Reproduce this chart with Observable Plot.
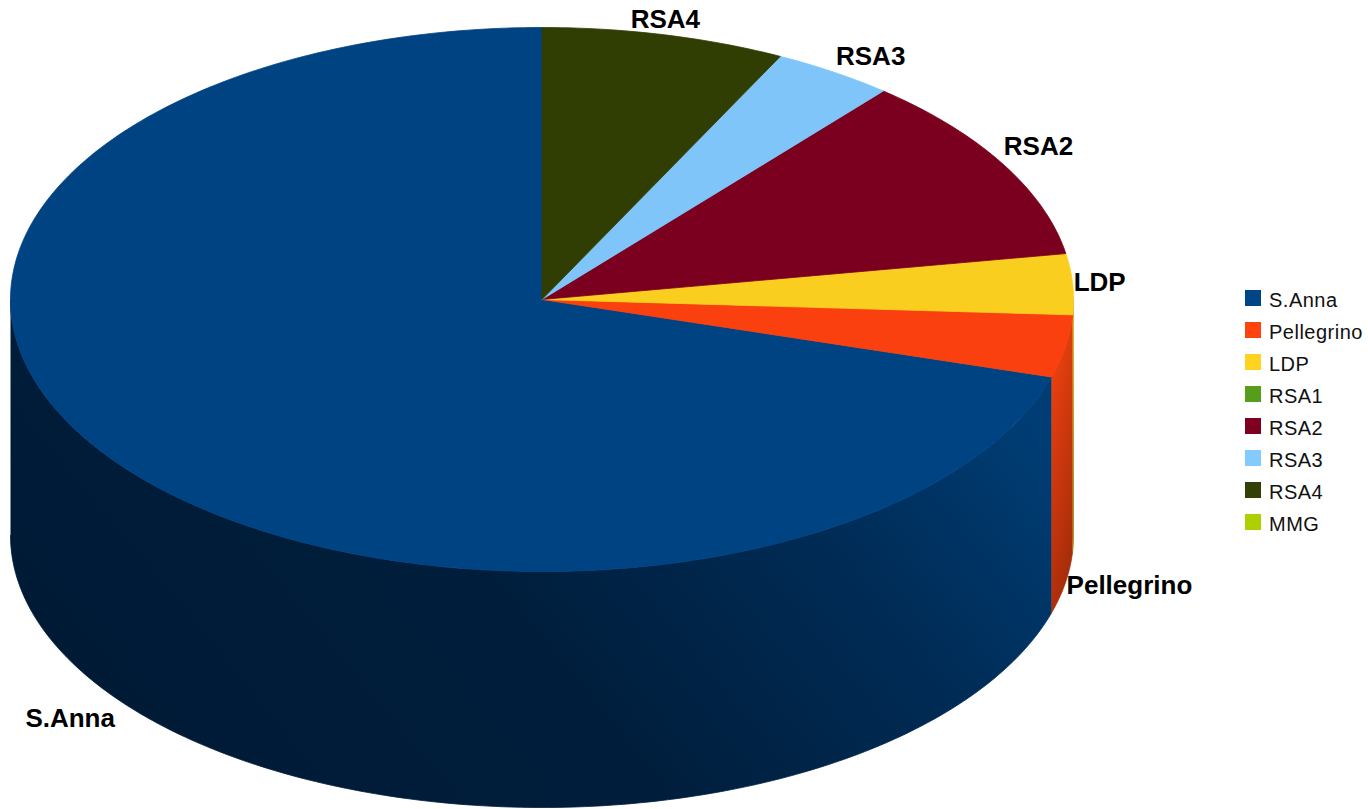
<!DOCTYPE html>
<html>
<head>
<meta charset="utf-8">
<script src="https://cdn.jsdelivr.net/npm/d3@7"></script>
<script src="https://cdn.jsdelivr.net/npm/@observablehq/plot@0.6"></script>
<style>
  body { margin: 0; background: #fff; font-family: "Liberation Sans", Arial, sans-serif; }
  #chart { position: relative; width: 1368px; height: 809px; overflow: hidden; }
  #legend { position: absolute; left: 1245px; top: 282px; }
  #legend .row { display: flex; align-items: center; height: 32px; }
  #legend .sw { width: 16px; height: 16px; margin-right: 8px; }
  #legend .lab { font-size: 20px; color: #111; letter-spacing: 0.5px; position: relative; top: 2px; }
</style>
</head>
<body>
<div id="chart"></div>
<script>
// Pie data: share of each facility, drawn counter-clockwise from 12 o'clock
const categories = ["S.Anna", "Pellegrino", "LDP", "RSA1", "RSA2", "RSA3", "RSA4", "MMG"];
const shares = [70.4, 3.7, 3.6, 0, 11.2, 3.7, 7.4, 0];
const colors = ["#004586", "#ff420e", "#ffd320", "#579d1c", "#7e0021", "#83caff", "#314004", "#aecf00"];

// Wall shading per slice (gradient stops: [offset, colour])
const wallShades = {
  "S.Anna": [[0, "#001a35"], [0.45, "#001e3c"], [0.75, "#002b55"], [1, "#003d74"]],
  "Pellegrino": [[0, "#f8450f"], [1, "#a82d0b"]],
  "LDP": [[0, "#f0c81e"], [1, "#a88a10"]]
};

// Layout of the tilted cylinder (pixels)
const W = 1368, H = 809;
const cx = 541.5, cy = 299, rx = 531.5, ry = 272, depthPx = 236;
const D = depthPx / ry; // wall height in unit-radius y units

const total = d3.sum(shares);
let acc = 90;
const slices = categories.map((name, i) => {
  const a0 = acc;
  const a1 = acc + shares[i] / total * 360;
  acc = a1;
  return {name, value: shares[i], color: colors[i], a0, a1, i};
}).filter(s => s.value > 0);

const rad = d => d * Math.PI / 180;
function arc(a0, a1, dy = 0) {
  const n = Math.max(2, Math.ceil(Math.abs(a1 - a0)));
  return d3.range(n + 1).map(k => {
    const a = rad(a0 + (a1 - a0) * k / n);
    return {x: Math.cos(a), y: Math.sin(a) + dy};
  });
}

// Top faces: wedge from the centre, lit slightly below full colour
const tops = slices.map(s => ({s, fill: d3.color(s.color).darker(0.07).formatHex(), pts: [{x: 0, y: 0}, ...arc(s.a0, s.a1), {x: 0, y: 0}]}));

// Outer walls: only the front half (180°–360°) is visible
const walls = [];
for (const s of slices) {
  for (const [w0, w1] of [[180, 360], [540, 720]]) {
    const lo = Math.max(s.a0, w0), hi = Math.min(s.a1, w1);
    if (hi > lo) walls.push({s, pts: [...arc(lo, hi), ...arc(hi, lo, -D)]});
  }
}

// Labels placed just outside each slice's mid angle
// (upper half at the top rim, lower half at the bottom rim)
const labels = slices.map(s => {
  const m = rad((s.a0 + s.a1) / 2);
  const c = Math.cos(m), sn = Math.sin(m);
  const line = Math.abs(sn) < 0.3 ? "middle" : sn > 0 ? "bottom" : "top";
  return {
    name: s.name,
    x: c,
    y: sn >= 0 ? sn : sn - D,
    anchor: Math.abs(c) < 0.3 ? "middle" : c > 0 ? "start" : "end",
    line,
    dx: Math.abs(c) > 0.8 ? Math.sign(c) : 4 * c,
    dy: line === "middle" ? -20 * sn : line === "bottom" ? -(6 + 3 * Math.abs(c)) : 10
  };
});

const wallFill = s => wallShades[s.name] ? `url(#wall-${s.i})` : d3.color(s.color).darker(1).formatHex();

const chart = Plot.plot({
  width: W,
  height: H,
  margin: 0,
  x: {domain: [-1, 1], range: [cx - rx, cx + rx], axis: null},
  y: {domain: [-1, 1], range: [cy + ry, cy - ry], axis: null},
  style: {fontFamily: "'Liberation Sans', Arial, sans-serif", background: "white", overflow: "visible"},
  marks: [
    ...walls.map(w => Plot.line(w.pts, {x: "x", y: "y", fill: wallFill(w.s), stroke: wallFill(w.s), strokeWidth: 0.8})),
    ...tops.map(t => Plot.line(t.pts, {x: "x", y: "y", fill: t.fill, stroke: t.fill, strokeWidth: 0.8})),
    ...labels.map(l => Plot.text([l], {
      x: "x", y: "y", text: "name",
      textAnchor: l.anchor, lineAnchor: l.line,
      dx: l.dx, dy: l.dy,
      fontSize: 26, fontWeight: "bold", fill: "#000"
    }))
  ]
});

// Gradient definitions for the shaded walls
const svg = d3.select(chart);
const defs = svg.insert("defs", ":first-child");
for (const s of slices) {
  const stops = wallShades[s.name];
  if (!stops) continue;
  const g = defs.append("linearGradient").attr("id", `wall-${s.i}`);
  if (s.name === "S.Anna") g.attr("x1", 0).attr("y1", 0.7).attr("x2", 1).attr("y2", 0.3);
  else g.attr("x1", 0).attr("y1", 0).attr("x2", 0.35).attr("y2", 1);
  for (const [o, c] of stops) g.append("stop").attr("offset", o).attr("stop-color", c);
}

const root = document.getElementById("chart");
root.appendChild(chart);

// Legend: every category, including empty ones
const legend = d3.select(root).append("div").attr("id", "legend");
const rows = legend.selectAll(".row").data(categories).join("div").attr("class", "row");
rows.append("div").attr("class", "sw").style("background", (d, i) => colors[i]);
rows.append("div").attr("class", "lab").text(d => d);
</script>
</body>
</html>
